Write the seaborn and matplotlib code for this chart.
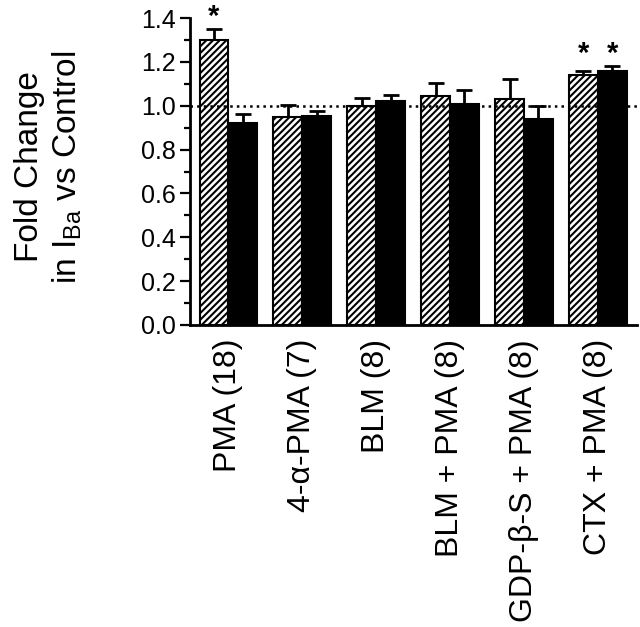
import numpy as np
import pandas as pd
import seaborn as sns
import matplotlib.pyplot as plt
from matplotlib.ticker import MultipleLocator

# Daten
bedingungen = ["PMA (18)", "4-\u03b1-PMA (7)", "BLM (8)", "BLM + PMA (8)",
               "GDP-\u03b2-S + PMA (8)", "CTX + PMA (8)"]
werte_schraffiert = [1.30, 0.95, 1.00, 1.045, 1.03, 1.14]
fehler_schraffiert = [0.05, 0.055, 0.035, 0.06, 0.09, 0.02]
werte_schwarz = [0.92, 0.953, 1.02, 1.01, 0.94, 1.16]
fehler_schwarz = [0.04, 0.025, 0.03, 0.06, 0.06, 0.02]
signifikant_schraffiert = [True, False, False, False, False, True]
signifikant_schwarz = [False, False, False, False, False, True]

sns.set_style("ticks")
plt.rcParams['font.family'] = ['Liberation Sans', 'DejaVu Sans']
plt.rcParams['mathtext.fontset'] = 'custom'
plt.rcParams['mathtext.rm'] = 'Liberation Sans'
plt.rcParams['mathtext.it'] = 'Liberation Sans'
plt.rcParams['hatch.linewidth'] = 1.5
plt.rcParams['text.color'] = 'black'
plt.rcParams['axes.edgecolor'] = 'black'
plt.rcParams['xtick.color'] = 'black'
plt.rcParams['ytick.color'] = 'black'

df = pd.DataFrame({
    "Bedingung": bedingungen * 2,
    "Gruppe": ["schraffiert"] * 6 + ["schwarz"] * 6,
    "Wert": werte_schraffiert + werte_schwarz,
})

fig = plt.figure(figsize=(6.4, 6.27), dpi=100)
ax = fig.add_axes([190 / 640, 1 - 325 / 627, 447 / 640, 307 / 627])

sns.barplot(data=df, x="Bedingung", y="Wert", hue="Gruppe",
            palette=["white", "black"], edgecolor="black", linewidth=1.5,
            width=0.78, errorbar=None, legend=False, ax=ax, zorder=2)

# Schraffur fuer die erste Gruppe
for bar in ax.containers[0]:
    bar.set_hatch("/////")

# Fehlerbalken (nur nach oben) und Sterne
gruppen = [(ax.containers[0], werte_schraffiert, fehler_schraffiert, signifikant_schraffiert),
           (ax.containers[1], werte_schwarz, fehler_schwarz, signifikant_schwarz)]
oben = np.maximum(np.array(werte_schraffiert) + fehler_schraffiert,
                  np.array(werte_schwarz) + fehler_schwarz)
for container, werte, fehler, sig in gruppen:
    xs = [b.get_x() + b.get_width() / 2 for b in container]
    ax.errorbar(xs, werte, yerr=[np.zeros(len(werte)), fehler], fmt="none",
                ecolor="black", elinewidth=2, capsize=6, capthick=2, zorder=1)
    for i, x in enumerate(xs):
        if sig[i]:
            ax.text(x, oben[i] + 0.055, "*", ha="center", va="center",
                    fontsize=21, fontweight="bold", clip_on=False)

ax.axhline(1.0, ls=":", color="black", lw=1.8, zorder=3)

ax.set_ylim(0, 1.4)
ax.set_xlim(-0.52, 5.53)
ax.yaxis.set_major_locator(MultipleLocator(0.2))
ax.yaxis.set_minor_locator(MultipleLocator(0.1))
ax.yaxis.set_major_formatter(plt.FormatStrFormatter("%.1f"))
ax.tick_params(axis="y", which="major", length=7, width=1.6, labelsize=18, pad=3)
ax.tick_params(axis="y", which="minor", length=4, width=1.6)
ax.tick_params(axis="x", length=0, labelsize=23, pad=10)
plt.setp(ax.get_xticklabels(), rotation=90, va="top", ha="center")
ax.set_xlabel("")
ax.set_ylabel("")
for s in ["left", "bottom"]:
    ax.spines[s].set_linewidth(2)
for s in ["top", "right"]:
    ax.spines[s].set_visible(False)

fig.text(49 / 640, 1 - 167 / 627, "Fold Change\nin I$_{\\mathrm{Ba}}$ vs Control",
         rotation=90, ha="center", va="center", fontsize=24,
         multialignment="center", linespacing=1.25)

fig.savefig("out.png", dpi=100)
